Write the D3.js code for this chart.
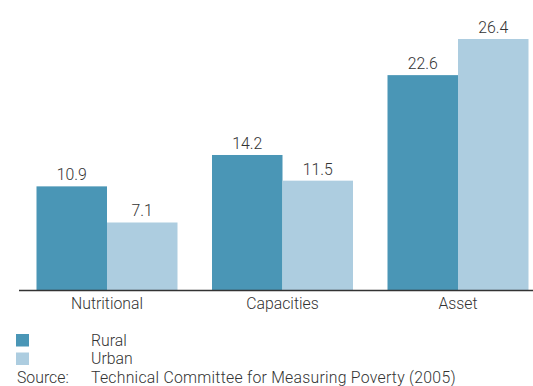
<!DOCTYPE html>
<html>
<head>
<meta charset="utf-8">
<script src="https://cdn.jsdelivr.net/npm/d3@7"></script>
<style>
  html, body { margin: 0; padding: 0; background: #fff; }
  svg text { font-family: Roboto, "Liberation Sans", Arial, sans-serif; font-weight: 300; fill: #333; }
</style>
</head>
<body>
<svg id="chart" width="533" height="386"></svg>
<script>
// Poverty measures by area type
const categories = ["Nutritional", "Capacities", "Asset"];
const seriesNames = ["Rural", "Urban"];
const rural = [10.9, 14.2, 22.6];
const urban = [7.1, 11.5, 26.4];
const colors = ["#4a96b6", "#adcde0"];
const sourceLabel = "Source:";
const sourceText = "Technical Committee for Measuring Poverty (2005)";

const svg = d3.select("#chart");
const baseY = 290;
const fontSize = 15.8;

const x = d3.scaleBand()
  .domain(categories)
  .range([19.25, 545.75])
  .paddingInner(0.1966)
  .paddingOuter(0.0983);

const xs = d3.scaleBand()
  .domain(seriesNames)
  .range([0, x.bandwidth()]);

const y = d3.scaleLinear()
  .domain([0, 26.4])
  .range([baseY, 39]);

const data = categories.map((c, i) => ({
  cat: c,
  values: [{ s: "Rural", v: rural[i] }, { s: "Urban", v: urban[i] }]
}));

const groups = svg.append("g").selectAll("g")
  .data(data)
  .join("g")
  .attr("transform", d => `translate(${x(d.cat)},0)`);

groups.selectAll("rect")
  .data(d => d.values)
  .join("rect")
  .attr("x", d => xs(d.s))
  .attr("y", d => y(d.v))
  .attr("width", xs.bandwidth())
  .attr("height", d => baseY - y(d.v))
  .attr("fill", (d, i) => colors[i]);

groups.selectAll("text.val")
  .data(d => d.values)
  .join("text")
  .attr("class", "val")
  .attr("x", d => xs(d.s) + xs.bandwidth() / 2)
  .attr("y", d => y(d.v) - 6)
  .attr("text-anchor", "middle")
  .attr("font-size", fontSize)
  .text(d => d.v.toFixed(1));

// category axis
const axis = svg.append("g")
  .attr("transform", `translate(0,${baseY})`)
  .call(d3.axisBottom(x).tickSize(0).tickPadding(8));
axis.select(".domain").remove();
axis.selectAll("text")
  .attr("font-size", fontSize)
  .attr("fill", "#333")
  .style("font-family", "Roboto, 'Liberation Sans', Arial, sans-serif")
  .style("font-weight", 300);

svg.append("line")
  .attr("x1", 19).attr("x2", 533)
  .attr("y1", baseY + 0.5).attr("y2", baseY + 0.5)
  .attr("stroke", "#333").attr("stroke-width", 1.5);

// legend
const legend = svg.append("g");
seriesNames.forEach((s, i) => {
  legend.append("rect")
    .attr("x", 16).attr("y", 334 + i * 18.5)
    .attr("width", 13).attr("height", 12.5)
    .attr("fill", colors[i]);
  legend.append("text")
    .attr("x", 91).attr("y", 346 + i * 18)
    .attr("font-size", fontSize)
    .text(s);
});
legend.append("text").attr("x", 17).attr("y", 382.5).attr("font-size", fontSize).text(sourceLabel);
legend.append("text").attr("x", 91).attr("y", 382.5).attr("font-size", fontSize)
  .attr("letter-spacing", 0.25).text(sourceText);
</script>
</body>
</html>
